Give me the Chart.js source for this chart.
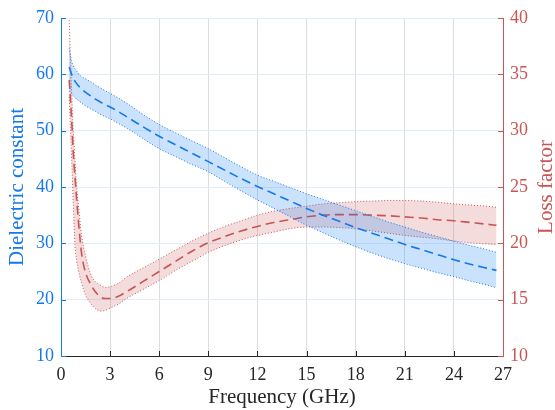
<!DOCTYPE html>
<html><head><meta charset="utf-8">
<script src="https://cdn.jsdelivr.net/npm/chart.js@4"></script>
<style>html,body{margin:0;padding:0;background:#fff}#wrap{width:555px;height:410px}</style>
</head><body><div id="wrap"><canvas id="c" width="555" height="410"></canvas></div>
<script>
const freq = [0.5, 0.65, 0.75, 0.85, 0.95, 1.05, 1.25, 1.5, 1.8, 2.1, 2.4, 2.7, 3, 3.5, 4, 5, 6, 7, 8, 9, 10, 11, 12, 13, 14, 15, 16, 17, 18, 19, 20, 21, 22, 23, 24, 25, 26, 26.6];
const dielMean  = [61.3, 60.0, 59.3, 58.8, 58.4, 58.0, 57.4, 56.8, 56.2, 55.6, 55.1, 54.6, 54.2, 53.4, 52.5, 50.7, 49.0, 47.5, 46.0, 44.5, 43.0, 41.5, 40.1, 38.8, 37.5, 36.2, 35.0, 33.9, 32.8, 31.8, 30.8, 29.8, 28.9, 28.0, 27.1, 26.3, 25.6, 25.2];
const dielUpper = [64.6, 62.3, 61.5, 61.0, 60.6, 60.2, 59.6, 59.2, 58.7, 58.1, 57.6, 57.1, 56.6, 55.8, 54.9, 52.9, 51.1, 49.6, 48.2, 46.8, 45.2, 43.6, 42.1, 41.0, 39.9, 38.8, 37.8, 36.8, 35.8, 34.8, 33.8, 32.9, 32.0, 31.2, 30.4, 29.6, 28.9, 28.4];
const dielLower = [57.0, 56.5, 56.2, 55.9, 55.6, 55.4, 54.9, 54.4, 53.9, 53.4, 52.9, 52.5, 52.1, 51.3, 50.5, 48.6, 46.8, 45.4, 44.0, 42.7, 41.0, 39.3, 37.7, 36.2, 34.7, 33.2, 31.9, 30.6, 29.4, 28.3, 27.3, 26.4, 25.6, 24.8, 24.1, 23.3, 22.6, 22.1];
const lossMean  = [34.5, 31.0, 28.0, 26.0, 24.0, 22.2, 19.2, 17.4, 16.4, 15.7, 15.25, 15.1, 15.1, 15.3, 15.7, 16.6, 17.5, 18.4, 19.3, 20.05, 20.6, 21.1, 21.5, 21.85, 22.1, 22.35, 22.5, 22.55, 22.55, 22.5, 22.45, 22.35, 22.25, 22.1, 22.0, 21.85, 21.7, 21.6];
const lossUpper = [39.8, 33.5, 30.0, 27.5, 25.2, 23.6, 20.8, 18.9, 17.3, 16.6, 16.3, 16.1, 16.15, 16.45, 17.0, 17.8, 18.6, 19.4, 20.2, 20.9, 21.5, 22.0, 22.5, 22.85, 23.1, 23.3, 23.5, 23.6, 23.7, 23.75, 23.8, 23.8, 23.75, 23.65, 23.5, 23.4, 23.3, 23.2];
const lossLower = [33.0, 27.5, 23.5, 19.9, 18.5, 17.7, 16.5, 15.4, 14.7, 14.2, 14.0, 14.05, 14.25, 14.6, 15.1, 15.9, 16.7, 17.6, 18.4, 19.2, 19.8, 20.3, 20.7, 21.0, 21.3, 21.45, 21.45, 21.4, 21.3, 21.1, 20.9, 20.7, 20.55, 20.4, 20.2, 20.05, 19.95, 19.9];
const xTicks = [0, 3, 6, 9, 12, 15, 18, 21, 24, 27];
const leftTicks = [10, 20, 30, 40, 50, 60, 70];
const rightTicks = [10, 15, 20, 25, 30, 35, 40];

const BLUE = '#1479ec', RED = '#c95555', DARK = '#262626';
const SERIF = "'Liberation Serif', 'Times New Roman', serif";
Chart.defaults.font.family = SERIF;
const pts = arr => freq.map((f, i) => ({x: f, y: arr[i]}));
const common = {pointRadius: 0, borderWidth: 1, tension: 0, cubicInterpolationMode: 'monotone'};

const axesPlugin = {
  id: 'axesPlugin',
  afterDraw(chart) {
    const ctx = chart.ctx, a = chart.chartArea;
    const x = chart.scales.x, y = chart.scales.y, y2 = chart.scales.y2;
    ctx.save();
    ctx.lineWidth = 1;
    ctx.strokeStyle = DARK;
    ctx.beginPath(); ctx.moveTo(a.left, a.bottom + 0.5); ctx.lineTo(a.right, a.bottom + 0.5); ctx.stroke();
    xTicks.forEach(v => { const px = Math.round(x.getPixelForValue(v)) + 0.5; ctx.beginPath(); ctx.moveTo(px, a.bottom); ctx.lineTo(px, a.bottom - 5); ctx.stroke(); });
    ctx.strokeStyle = BLUE;
    ctx.beginPath(); ctx.moveTo(a.left + 0.5, a.top); ctx.lineTo(a.left + 0.5, a.bottom + 1); ctx.stroke();
    leftTicks.forEach(v => { const py = Math.round(y.getPixelForValue(v)) + 0.5; ctx.beginPath(); ctx.moveTo(a.left, py); ctx.lineTo(a.left + 5, py); ctx.stroke(); });
    ctx.strokeStyle = RED;
    ctx.beginPath(); ctx.moveTo(a.right + 0.5, a.top); ctx.lineTo(a.right + 0.5, a.bottom + 1); ctx.stroke();
    rightTicks.forEach(v => { const py = Math.round(y2.getPixelForValue(v)) + 0.5; ctx.beginPath(); ctx.moveTo(a.right, py); ctx.lineTo(a.right - 5, py); ctx.stroke(); });
    ctx.fillStyle = RED;
    ctx.font = '21px ' + SERIF;
    ctx.textAlign = 'center'; ctx.textBaseline = 'middle';
    ctx.translate(546, (a.top + a.bottom) / 2);
    ctx.rotate(-Math.PI / 2);
    ctx.fillText('Loss factor', 0, 0);
    ctx.restore();
  }
};

new Chart(document.getElementById('c'), {
  type: 'line',
  data: {
    datasets: [
      {...common, data: pts(dielUpper), yAxisID: 'y', borderColor: BLUE, borderDash: [1, 2], backgroundColor: 'rgba(20,125,240,0.22)', fill: '+1'},
      {...common, data: pts(dielLower), yAxisID: 'y', borderColor: BLUE, borderDash: [1, 2], fill: false},
      {...common, data: pts(dielMean), yAxisID: 'y', borderColor: BLUE, borderWidth: 1.6, borderDash: [9, 5], fill: false},
      {...common, data: pts(lossUpper), yAxisID: 'y2', borderColor: RED, borderDash: [1, 2], backgroundColor: 'rgba(200,80,80,0.2)', fill: '+1'},
      {...common, data: pts(lossLower), yAxisID: 'y2', borderColor: RED, borderDash: [1, 2], fill: false},
      {...common, data: pts(lossMean), yAxisID: 'y2', borderColor: RED, borderWidth: 1.6, borderDash: [9, 5], fill: false}
    ]
  },
  options: {
    responsive: false, animation: false, devicePixelRatio: 1,
    layout: {padding: {top: 18, left: 0, right: 0, bottom: 0}},
    plugins: {legend: {display: false}, tooltip: {enabled: false}},
    scales: {
      x: {
        type: 'linear', min: 0, max: 27,
        afterBuildTicks: s => { s.ticks = xTicks.map(v => ({value: v})); },
        afterFit: s => { s.height = 54; },
        grid: {color: '#dedede', drawTicks: false},
        border: {display: false},
        ticks: {color: DARK, font: {family: SERIF, size: 18}, padding: 8, maxRotation: 0, autoSkip: false},
        title: {display: true, text: 'Frequency (GHz)', color: DARK, font: {family: SERIF, size: 21}, padding: {top: 0, bottom: 0}}
      },
      y: {
        position: 'left', min: 10, max: 70,
        afterBuildTicks: s => { s.ticks = leftTicks.map(v => ({value: v})); },
        afterFit: s => { s.width = 61; },
        grid: {color: '#e2edfa', drawTicks: false},
        border: {display: false},
        ticks: {color: BLUE, font: {family: SERIF, size: 18}, padding: 7},
        title: {display: true, text: 'Dielectric constant', color: BLUE, font: {family: SERIF, size: 21}, padding: {top: 5, bottom: 0}}
      },
      y2: {
        position: 'right', min: 10, max: 40,
        afterBuildTicks: s => { s.ticks = rightTicks.map(v => ({value: v})); },
        afterFit: s => { s.width = 52; },
        grid: {display: false, drawTicks: false},
        border: {display: false},
        ticks: {color: RED, font: {family: SERIF, size: 18}, padding: 7}
      }
    }
  },
  plugins: [axesPlugin]
});
</script>
</body></html>
